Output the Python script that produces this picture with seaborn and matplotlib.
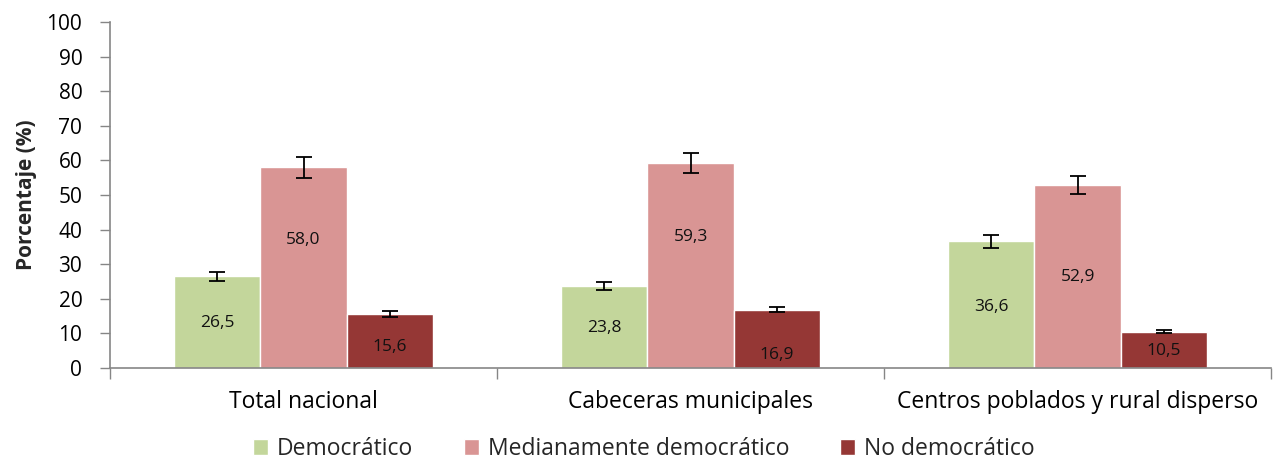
import matplotlib
matplotlib.use("Agg")
import matplotlib.pyplot as plt
import seaborn as sns
import pandas as pd
import numpy as np

categories = ["Total nacional", "Cabeceras municipales", "Centros poblados y rural disperso"]
series = ["Democrático", "Medianamente democrático", "No democrático"]
democratico = [26.5, 23.8, 36.6]
medianamente = [58.0, 59.3, 52.9]
no_democratico = [15.6, 16.9, 10.5]
err_democratico = [1.3, 1.2, 1.8]
err_medianamente = [3.0, 3.0, 2.7]
err_no_democratico = [0.8, 0.8, 0.5]
# label vertical positions (data units) as placed in the reference
label_pos_dem = [13.0, 11.6, 17.6]
label_pos_med = [37.0, 38.0, 26.3]
label_pos_no = [6.0, 3.8, 4.9]

colors = ["#C3D69B", "#D99594", "#953735"]

sns.set_theme(style="white")
plt.rcParams["font.family"] = ["Open Sans", "DejaVu Sans"]

rows = []
for s, vals in zip(series, [democratico, medianamente, no_democratico]):
    for c, v in zip(categories, vals):
        rows.append({"cat": c, "serie": s, "val": v})
df = pd.DataFrame(rows)

fig = plt.figure(figsize=(12.75, 4.61), dpi=100)
ax = fig.add_axes([0.0863, 0.2017, 0.9107, 0.7503])

sns.barplot(data=df, x="cat", y="val", hue="serie", order=categories,
            hue_order=series, palette=colors, width=0.67, errorbar=None,
            saturation=1, ax=ax, legend=True)

errs = [err_democratico, err_medianamente, err_no_democratico]
vals_all = [democratico, medianamente, no_democratico]
lpos = [label_pos_dem, label_pos_med, label_pos_no]
bar_containers = list(ax.containers)
for i, cont in enumerate(bar_containers):
    xs = [p.get_x() + p.get_width() / 2 for p in cont.patches]
    ax.errorbar(xs, vals_all[i], yerr=errs[i], fmt="none", ecolor="black",
                elinewidth=1.3, capsize=5.5, capthick=1.3, zorder=5)
    for x, v, ly in zip(xs, vals_all[i], lpos[i]):
        ax.text(x, ly, f"{v:.1f}".replace(".", ","), ha="center", va="center",
                fontsize=12.5, color="#111111", zorder=6)

ax.set_ylim(0, 100)
ax.set_xlim(-0.5, 2.5)
ax.set_yticks(range(0, 101, 10))
ax.tick_params(axis="y", labelsize=15, length=7, width=1, color="#868686",
               direction="out", left=True, pad=13, labelcolor="black")
ax.set_xticks([-0.5, 0.5, 1.5, 2.5], minor=True)
ax.tick_params(axis="x", which="minor", length=8, width=1, color="#868686",
               direction="out", bottom=True)
ax.tick_params(axis="x", which="major", length=0, labelsize=16.5, pad=16,
               labelcolor="black")
ax.set_xlabel("")
ax.set_ylabel("Porcentaje (%)", fontsize=15, fontweight="bold", labelpad=7)

for sp in ["top", "right"]:
    ax.spines[sp].set_visible(False)
for sp in ["left", "bottom"]:
    ax.spines[sp].set_color("#868686")
    ax.spines[sp].set_linewidth(1.2)

handles, labels = ax.get_legend_handles_labels()
ax.get_legend().remove()
leg = fig.legend(handles, labels, loc="center", bbox_to_anchor=(0.505, 0.026),
                 ncol=3, frameon=False, fontsize=16.5, handlelength=0.65,
                 handleheight=0.65, handletextpad=0.4, columnspacing=2.2)

fig.savefig("out.png", dpi=100)
